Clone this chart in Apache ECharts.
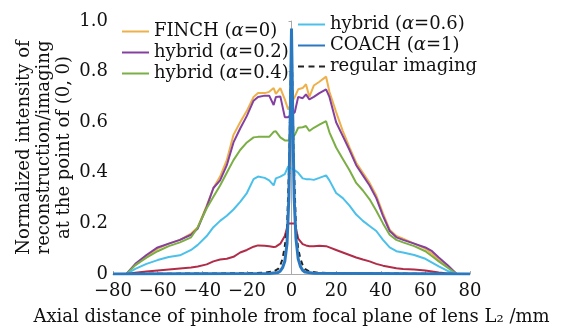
<!DOCTYPE html>
<html>
<head>
<meta charset="utf-8">
<script src="https://cdn.jsdelivr.net/npm/echarts@6/dist/echarts.min.js"></script>
<style>
  html, body { margin: 0; padding: 0; background: #fff; }
  #main { width: 564px; height: 331px; }
</style>
</head>
<body>
<div id="main"></div>
<script>
// axial distance (mm) shared by the broad curves
const xs = [-80, -74, -70, -65, -60, -55, -50, -45, -42, -38, -35, -32, -29, -26, -23, -20, -17, -15, -12, -10, -8, -7, -5, -3, -1.5,
    1.5, 3, 5, 6.5, 8, 10, 12.5, 15.5, 17, 20, 23, 26, 29, 32, 35, 38, 41, 44, 47, 50, 55, 60, 63, 66, 70, 74, 80];

// FINCH (alpha=0)
const finch = [0, 0, 0.035, 0.07, 0.1, 0.12, 0.135, 0.16, 0.185, 0.27, 0.34, 0.385, 0.45, 0.55, 0.6, 0.645, 0.7, 0.715, 0.715, 0.72, 0.735, 0.712, 0.735, 0.69, 0.65,
    0.7, 0.73, 0.735, 0.75, 0.7, 0.745, 0.76, 0.78, 0.72, 0.64, 0.565, 0.5, 0.44, 0.4, 0.36, 0.31, 0.24, 0.175, 0.15, 0.14, 0.12, 0.1, 0.08, 0.055, 0.03, 0, 0];
// hybrid alpha=0.2
const hybrid02 = [0, 0, 0.04, 0.075, 0.105, 0.12, 0.135, 0.155, 0.18, 0.265, 0.34, 0.37, 0.43, 0.52, 0.575, 0.625, 0.685, 0.7, 0.705, 0.705, 0.668, 0.7, 0.702, 0.62, 0.62,
    0.64, 0.7, 0.695, 0.71, 0.69, 0.7, 0.715, 0.73, 0.7, 0.6, 0.545, 0.49, 0.43, 0.39, 0.35, 0.3, 0.23, 0.17, 0.145, 0.135, 0.12, 0.105, 0.09, 0.065, 0.035, 0, 0];
// hybrid alpha=0.4
const hybrid04 = [0, 0, 0.035, 0.065, 0.09, 0.11, 0.125, 0.145, 0.185, 0.26, 0.305, 0.35, 0.4, 0.45, 0.49, 0.52, 0.54, 0.542, 0.542, 0.542, 0.562, 0.564, 0.54, 0.528, 0.528,
    0.55, 0.578, 0.58, 0.585, 0.565, 0.578, 0.59, 0.604, 0.56, 0.5, 0.455, 0.41, 0.36, 0.33, 0.295, 0.25, 0.2, 0.155, 0.135, 0.125, 0.11, 0.09, 0.07, 0.05, 0.025, 0, 0];
// hybrid alpha=0.6
const hybrid06 = [0, 0, 0.02, 0.04, 0.055, 0.067, 0.074, 0.095, 0.115, 0.15, 0.185, 0.21, 0.23, 0.255, 0.285, 0.32, 0.375, 0.385, 0.38, 0.37, 0.35, 0.378, 0.385, 0.395, 0.425,
    0.41, 0.4, 0.378, 0.375, 0.375, 0.372, 0.38, 0.39, 0.37, 0.32, 0.3, 0.27, 0.235, 0.21, 0.19, 0.17, 0.135, 0.105, 0.09, 0.085, 0.075, 0.06, 0.045, 0.03, 0.012, 0, 0];
// hybrid alpha=0.8 (not in legend)
const hybrid08 = [0, 0, 0.005, 0.01, 0.014, 0.018, 0.022, 0.026, 0.03, 0.038, 0.05, 0.057, 0.06, 0.068, 0.085, 0.095, 0.108, 0.113, 0.112, 0.11, 0.107, 0.108, 0.12, 0.15, 0.2,
    0.2, 0.14, 0.118, 0.113, 0.11, 0.11, 0.112, 0.11, 0.105, 0.095, 0.085, 0.075, 0.065, 0.057, 0.05, 0.04, 0.033, 0.028, 0.023, 0.02, 0.018, 0.014, 0.01, 0.006, 0.002, 0, 0];

// COACH (alpha=1), narrow peak
const coachX = [-80, -10, -6, -5, -4, -3, -2, -1.2, -0.6, 0, 0.6, 1.2, 2, 3, 4, 5, 6, 10, 80];
const coachY = [0, 0.002, 0.006, 0.012, 0.025, 0.05, 0.12, 0.3, 0.6, 0.97, 0.6, 0.3, 0.14, 0.06, 0.03, 0.015, 0.008, 0.003, 0];

// regular imaging
const regX = [-80, -40, -20, -12, -8, -6, -5, -4, -3, -2, -1, 0, 1, 2, 3, 4, 5, 6, 8, 12, 20, 40, 80];
const regY = [0, 0.002, 0.003, 0.005, 0.01, 0.02, 0.035, 0.06, 0.11, 0.18, 0.45, 0.95, 0.45, 0.18, 0.1, 0.06, 0.035, 0.02, 0.01, 0.005, 0.003, 0.002, 0];

const FONT = 'DejaVu Serif';
const pair = (x, y) => x.map((v, i) => [v, y[i]]);

// legend keys: plain bar for solid lines, three short bars for the dashed one
const SOLID_KEY = 'rect';
const DASH_KEY = 'path://M0,0h6v2h-6z M10.5,0h6v2h-6z M21,0h6v2h-6z';

function line(name, x, y, color, width, dashed) {
    return {
        name: name,
        type: 'line',
        data: pair(x, y),
        symbol: 'none',
        lineStyle: { color: color, width: width, type: dashed ? [5, 4] : 'solid' },
        itemStyle: { color: color },
        animation: false
    };
}

let myChart = echarts.init(document.getElementById('main'));

const legendText = {
    fontFamily: FONT, fontSize: 18, color: '#111', lineHeight: 21,
    rich: { i: { fontFamily: FONT, fontSize: 18, fontStyle: 'italic', color: '#111' } }
};
const fmt = n => n.replace('α', '{i|α}');
const key = (n, dashed) => ({ name: n, icon: dashed ? DASH_KEY : SOLID_KEY });

let option = {
    backgroundColor: '#fff',
    grid: { left: 113, right: 94, top: 21, bottom: 54 },
    legend: [
        {
            orient: 'vertical', left: 117, top: 16, itemWidth: 27, itemHeight: 2, itemGap: 0,
            data: [key('FINCH (α=0)'), key('hybrid (α=0.2)'), key('hybrid (α=0.4)')],
            formatter: fmt, textStyle: legendText
        },
        {
            orient: 'vertical', left: 293, top: 9, itemWidth: 27, itemHeight: 2, itemGap: 0,
            data: [key('hybrid (α=0.6)'), key('COACH (α=1)'), key('regular imaging', true)],
            formatter: fmt, textStyle: legendText
        }
    ],
    xAxis: {
        type: 'value', min: -80, max: 80, interval: 20,
        name: 'Axial distance of pinhole from focal plane of lens L₂ /mm',
        nameLocation: 'middle', nameGap: 34, nameMoveOverlap: false,
        nameTextStyle: { fontFamily: FONT, fontSize: 18, color: '#111' },
        axisLine: { lineStyle: { color: '#aaa', width: 1 } },
        axisTick: { inside: true, length: 3, lineStyle: { color: '#aaa' } },
        axisLabel: {
            fontFamily: FONT, fontSize: 18, color: '#111', margin: 8,
            formatter: v => (v < 0 ? '\u2212' + (-v) : '' + v)
        },
        splitLine: { show: false }
    },
    yAxis: {
        type: 'value', min: 0, max: 1, interval: 0.2,
        name: 'Normalized intensity of\nreconstruction/imaging\nat the point of (0, 0)',
        nameLocation: 'middle', nameRotate: 90, nameGap: 39, nameMoveOverlap: false,
        nameTextStyle: { fontFamily: FONT, fontSize: 18, color: '#111', lineHeight: 20 },
        axisLine: { show: true, lineStyle: { color: '#aaa', width: 1 } },
        axisTick: { show: true, length: 3, lineStyle: { color: '#aaa' } },
        axisLabel: {
            fontFamily: FONT, fontSize: 18, color: '#111', margin: 5,
            formatter: v => (v === 0 ? '0' : v.toFixed(1))
        },
        splitLine: { show: false }
    },
    series: [
        line('FINCH (α=0)', xs, finch, '#EDB04A', 2),
        line('hybrid (α=0.2)', xs, hybrid02, '#8440A0', 2),
        line('hybrid (α=0.4)', xs, hybrid04, '#7BAE45', 2),
        line('hybrid (α=0.6)', xs, hybrid06, '#4BC0EA', 2),
        line('hybrid (α=0.8)', xs, hybrid08, '#B02C48', 2),
        line('regular imaging', regX, regY, '#222', 2, true),
        line('COACH (α=1)', coachX, coachY, '#2A78BF', 3)
    ]
};
myChart.setOption(option);
</script>
</body>
</html>
